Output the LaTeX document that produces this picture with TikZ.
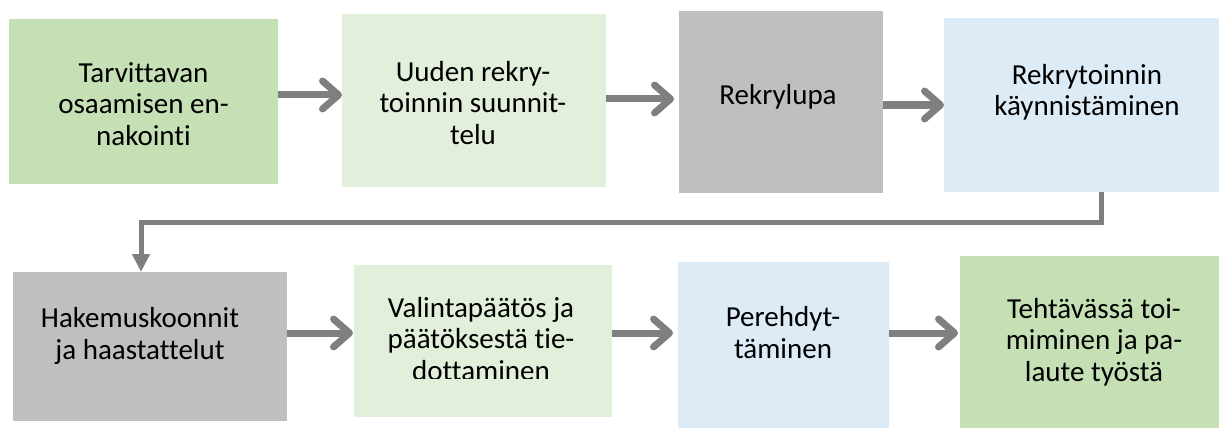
\documentclass[tikz,border=0pt]{standalone}
\usepackage{fontspec}
\setmainfont{Carlito}[Ligatures=NoCommon]
\usetikzlibrary{arrows.meta}
\definecolor{gA}{HTML}{C5E0B4}
\definecolor{gB}{HTML}{E2EFDA}
\definecolor{grb}{HTML}{BFBFBF}
\definecolor{blb}{HTML}{DDEBF7}
\definecolor{arc}{HTML}{7F7F7F}
\begin{document}
\begin{tikzpicture}[x=1pt,y=-1pt,
  box/.style={draw=none, inner sep=0pt, outer sep=0pt},
  txt/.style={font=\fontsize{29}{31.5}\selectfont, align=center, inner sep=0pt, anchor=base},
  arr/.style={draw=arc, line width=7pt, -{Straight Barb[length=16pt,width=28pt,round]}},
  conn/.style={draw=arc, line width=5pt, -{Triangle[length=18pt,width=17pt]}}]
\useasboundingbox (0,0) rectangle (1219,428);
\clip (0,0) rectangle (1219,428);
% boxes
\node[box, fill=gA,  minimum width=269pt, minimum height=165pt] (b1) at (143.5,101.5) {};
\node[box, fill=gB,  minimum width=264pt, minimum height=173pt] (b2) at (474,100.5) {};
\node[box, fill=grb, minimum width=204pt, minimum height=182pt] (b3) at (781,102) {};
\node[box, fill=blb, minimum width=285pt, minimum height=174pt] (b4) at (1086.5,105) {};
\node[box, fill=grb, minimum width=274pt, minimum height=149pt] (b5) at (150,346.5) {};
\node[box, fill=gB,  minimum width=258pt, minimum height=152pt] (b6) at (483,341) {};
\node[box, fill=blb, minimum width=211pt, minimum height=170pt] (b7) at (783.5,347) {};
\node[box, fill=gA,  minimum width=269pt, minimum height=176pt] (b8) at (1094.5,344) {};
% texts (anchor base = last line baseline)
\node[txt] (t1) at (143.5,145) {Tarvittavan\\osaamisen en-\\nakointi};
\node[txt] (t2) at (473,144) {Uuden rekry-\\toinnin suunnit-\\telu};
\node[txt] (t3) at (778,105) {Rekrylupa};
\node[txt] (t4) at (1087,116) {Rekrytoinnin\\käynnistäminen};
\node[txt] (t5) at (140,359) {Hakemuskoonnit\\ja haastattelut};
\begin{scope}
\clip (354,265) rectangle (612,378.5);
\node[txt] (t6) at (481,380) {Valintapäätös ja\\päätöksestä tie-\\dottaminen};
\end{scope}
\node[txt] (t7) at (783,358) {Perehdyt-\\täminen};
\node[txt] (t8) at (1094,381) {Tehtävässä toi-\\miminen ja pa-\\laute työstä};
% arrows
\coordinate (y1) at (0,95);
\coordinate (y2) at (0,99);
\coordinate (y3) at (0,105);
\coordinate (y4) at (0,333);
\draw[arr] (b1.east |- y1) -- (b2.west |- y1);
\draw[arr] (b2.east |- y2) -- ([xshift=-5pt]b3.west |- y2);
\draw[arr] (b3.east |- y3) -- (b4.west |- y3);
\draw[arr] (b5.east |- y4) -- ([xshift=-1pt]b6.west |- y4);
\draw[arr] (b6.east |- y4) -- ([xshift=-5pt]b7.west |- y4);
\draw[arr] (b7.east |- y4) -- ([xshift=-2pt]b8.west |- y4);
% connector
\coordinate (c1) at (1101,222);
\coordinate (c2) at (141,222);
\draw[conn] (c1 |- b4.south) -- (c1) -- (c2) -- (c2 |- b5.north);
\end{tikzpicture}
\end{document}
